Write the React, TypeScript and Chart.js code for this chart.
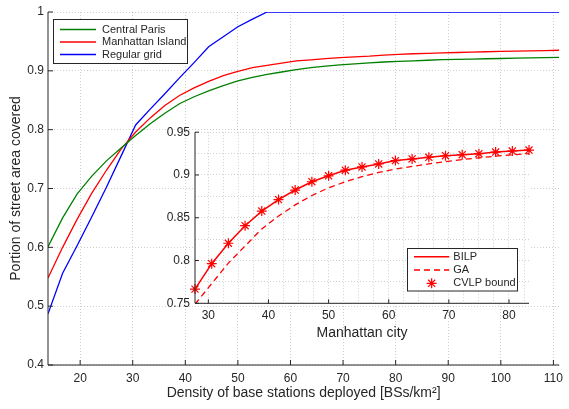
import React, { useEffect, useRef } from 'react';
import { Chart, registerables } from 'chart.js';

Chart.register(...registerables);

// ---------- data ----------
const densityValues = [
  13.89, 16.67, 19.44, 22.22, 25.0, 27.78, 30.56, 33.33, 36.11, 38.89, 41.67, 44.44,
  47.22, 50.0, 52.78, 55.56, 58.33, 61.11, 63.89, 66.67, 69.44, 72.22, 75.0, 77.78,
  80.56, 83.33, 86.11, 88.89, 91.67, 94.44, 97.22, 100.0, 102.78, 105.56, 108.33, 111.11,
];
const centralParis = [
  0.601, 0.65, 0.691, 0.721, 0.747, 0.769, 0.79, 0.81, 0.828, 0.844, 0.856, 0.866,
  0.875, 0.883, 0.889, 0.894, 0.898, 0.902, 0.9055, 0.908, 0.91, 0.912, 0.9135, 0.915,
  0.916, 0.917, 0.918, 0.919, 0.9195, 0.92, 0.9205, 0.921, 0.9215, 0.922, 0.9225, 0.923,
];
const manhattanIsland = [
  0.548, 0.6, 0.648, 0.692, 0.731, 0.767, 0.796, 0.82, 0.841, 0.858, 0.871, 0.882,
  0.892, 0.899, 0.9056, 0.9094, 0.913, 0.9168, 0.9187, 0.9207, 0.9225, 0.9237, 0.9249, 0.9268,
  0.928, 0.929, 0.9298, 0.9305, 0.9312, 0.9318, 0.9324, 0.933, 0.9335, 0.934, 0.9345, 0.935,
];
const regularGrid = [
  0.487, 0.556, 0.603, 0.652, 0.702, 0.755, 0.808, 0.835, 0.861, 0.888, 0.914, 0.941,
  0.958, 0.975, 0.988, 1.0, 1.0, 1.0, 1.0, 1.0, 1.0, 1.0, 1.0, 1.0,
  1.0, 1.0, 1.0, 1.0, 1.0, 1.0, 1.0, 1.0, 1.0, 1.0, 1.0, 1.0,
];
const mainXTicks = [20, 30, 40, 50, 60, 70, 80, 90, 100, 110];
const mainYTicks = [0.4, 0.5, 0.6, 0.7, 0.8, 0.9, 1.0];
const mainYLabels = ['0.4', '0.5', '0.6', '0.7', '0.8', '0.9', '1'];

const insetDensity = [
  27.78, 30.56, 33.33, 36.11, 38.89, 41.67, 44.44, 47.22, 50.0, 52.78, 55.56,
  58.33, 61.11, 63.89, 66.67, 69.44, 72.22, 75.0, 77.78, 80.56, 83.33,
];
const bilp = [
  0.7666, 0.7963, 0.8202, 0.8407, 0.8578, 0.8712, 0.8824, 0.8921, 0.899, 0.9056, 0.9094,
  0.9129, 0.9168, 0.9187, 0.9207, 0.9225, 0.9237, 0.9249, 0.9268, 0.928, 0.9291,
];
const ga = [
  0.749, 0.773, 0.797, 0.817, 0.837, 0.852, 0.865, 0.876, 0.885, 0.892, 0.898,
  0.903, 0.907, 0.91, 0.913, 0.9155, 0.918, 0.92, 0.922, 0.9235, 0.925,
];
const cvlpBound = [
  0.7666, 0.7963, 0.8202, 0.8407, 0.8578, 0.8712, 0.8824, 0.8921, 0.899, 0.9056, 0.9094,
  0.9129, 0.9168, 0.9187, 0.9207, 0.9225, 0.9237, 0.9249, 0.9268, 0.928, 0.9291,
];
const insetXGrid = [
  30, 32.5, 35, 37.5, 40, 42.5, 45, 47.5, 50, 52.5, 55, 57.5, 60, 62.5, 65, 67.5, 70, 72.5,
  75, 77.5, 80, 82.5,
];
const insetXMajor = [30, 40, 50, 60, 70, 80];
const insetYGrid = [0.75, 0.775, 0.8, 0.825, 0.85, 0.875, 0.9, 0.925, 0.95];
const insetYMajor = [0.75, 0.8, 0.85, 0.9, 0.95];
const insetYLabels = ['0.75', '0.8', '0.85', '0.9', '0.95'];

// ---------- styles ----------
const FONT = '"Liberation Sans", Arial, Helvetica, sans-serif';
const TEXT = '#262626';
const AXIS = '#262626';
const GRID = 'rgba(38,38,38,0.22)';
const GREEN = '#008000';
const RED = '#ff0000';
const BLUE = '#0000ff';

const pts = (xs: number[], ys: number[]) => xs.map((x, i) => ({ x, y: ys[i] }));
const near = (a: number, b: number) => Math.abs(a - b) < 1e-6;

function axisPlugin(tickLen: number, xMajor: number[], yMajor: number[]) {
  return {
    id: 'axisTicks',
    afterDatasetsDraw(chart: any) {
      const { ctx, chartArea: a, scales } = chart;
      ctx.save();
      ctx.strokeStyle = AXIS;
      ctx.lineWidth = 1;
      ctx.setLineDash([]);
      ctx.beginPath();
      ctx.moveTo(a.left, a.top);
      ctx.lineTo(a.left, a.bottom);
      ctx.lineTo(a.right, a.bottom);
      for (const v of xMajor) {
        const px = scales.x.getPixelForValue(v);
        ctx.moveTo(px, a.bottom);
        ctx.lineTo(px, a.bottom - tickLen);
      }
      for (const v of yMajor) {
        const py = scales.y.getPixelForValue(v);
        ctx.moveTo(a.left, py);
        ctx.lineTo(a.left + tickLen, py);
      }
      ctx.stroke();
      ctx.restore();
    },
  };
}

type LegendItem = { label: string; color: string; dash?: number[]; marker?: boolean; width?: number };
function legendPlugin(box: { x: number; y: number; w: number; h: number }, lineX0: number, lineX1: number, textX: number, rows: number[], items: LegendItem[]) {
  return {
    id: 'customLegend',
    afterDraw(chart: any) {
      const ctx = chart.ctx;
      ctx.save();
      ctx.fillStyle = '#ffffff';
      ctx.fillRect(box.x, box.y, box.w, box.h);
      ctx.strokeStyle = AXIS;
      ctx.lineWidth = 1;
      ctx.setLineDash([]);
      ctx.strokeRect(box.x, box.y, box.w, box.h);
      ctx.font = `11px ${FONT}`;
      ctx.textBaseline = 'middle';
      ctx.textAlign = 'left';
      items.forEach((it, i) => {
        const y = rows[i];
        ctx.strokeStyle = it.color;
        ctx.lineWidth = it.width || 1.3;
        if (it.marker) {
          const cx = (lineX0 + lineX1) / 2;
          const r = 5;
          ctx.setLineDash([]);
          ctx.beginPath();
          ctx.moveTo(cx, y - r); ctx.lineTo(cx, y + r);
          ctx.moveTo(cx - r, y); ctx.lineTo(cx + r, y);
          const d = r * Math.SQRT1_2;
          ctx.moveTo(cx - d, y - d); ctx.lineTo(cx + d, y + d);
          ctx.moveTo(cx - d, y + d); ctx.lineTo(cx + d, y - d);
          ctx.lineWidth = 1.2;
          ctx.stroke();
        } else {
          ctx.setLineDash(it.dash || []);
          ctx.beginPath();
          ctx.moveTo(lineX0, y);
          ctx.lineTo(lineX1, y);
          ctx.stroke();
        }
        ctx.setLineDash([]);
        ctx.fillStyle = TEXT;
        ctx.fillText(it.label, textX, y);
      });
      ctx.restore();
    },
  };
}

const plotBackground = {
  id: 'plotBg',
  beforeDraw(chart: any) {
    const { ctx, chartArea: a } = chart;
    ctx.save();
    ctx.fillStyle = '#ffffff';
    ctx.fillRect(a.left, a.top, a.right - a.left, a.bottom - a.top);
    ctx.restore();
  },
};

export default function App() {
  const mainRef = useRef<HTMLCanvasElement>(null);
  const insetRef = useRef<HTMLCanvasElement>(null);

  useEffect(() => {
    const tickFont = { size: 12, family: FONT };
    const titleFont = { size: 14, family: FONT };

    const main = new Chart(mainRef.current as HTMLCanvasElement, {
      type: 'line',
      data: {
        datasets: [
          { label: 'Central Paris', data: pts(densityValues, centralParis), borderColor: GREEN, borderWidth: 1.3, pointRadius: 0, tension: 0 },
          { label: 'Manhattan Island', data: pts(densityValues, manhattanIsland), borderColor: RED, borderWidth: 1.3, pointRadius: 0, tension: 0 },
          { label: 'Regular grid', data: pts(densityValues, regularGrid), borderColor: BLUE, borderWidth: 1.3, pointRadius: 0, tension: 0 },
        ],
      },
      options: {
        responsive: false,
        animation: false,
        events: [],
        layout: { padding: { top: 12, right: 3, left: 0, bottom: 0 } },
        plugins: { legend: { display: false }, tooltip: { enabled: false } },
        scales: {
          x: {
            type: 'linear',
            min: 13.89,
            max: 111.11,
            afterBuildTicks: (s: any) => { s.ticks = mainXTicks.map((v) => ({ value: v })); },
            afterFit: (s: any) => { s.height = 44; },
            grid: { color: GRID, lineWidth: 1, drawTicks: false },
            border: { display: false, dash: [1, 2] },
            ticks: { padding: 6, color: TEXT, font: tickFont, maxRotation: 0, autoSkip: false, callback: (v: any) => String(v) },
            title: { display: true, text: 'Density of base stations deployed [BSs/km²]', color: TEXT, font: titleFont, padding: { top: 0, bottom: 7.6 } },
          },
          y: {
            type: 'linear',
            min: 0.4,
            max: 1.0,
            afterBuildTicks: (s: any) => { s.ticks = mainYTicks.map((v) => ({ value: v })); },
            afterFit: (s: any) => { s.width = 48; },
            grid: { color: GRID, lineWidth: 1, drawTicks: false },
            border: { display: false, dash: [1, 2] },
            ticks: {
              padding: 4, color: TEXT, font: tickFont, autoSkip: false,
              callback: (v: any) => { const i = mainYTicks.findIndex((t) => near(t, v)); return i >= 0 ? mainYLabels[i] : ''; },
            },
            title: { display: true, text: 'Portion of street area covered', color: TEXT, font: titleFont, padding: { top: 7.6, bottom: 0 } },
          },
        },
      },
      plugins: [
        axisPlugin(5, mainXTicks, mainYTicks),
        legendPlugin({ x: 53.5, y: 19.5, w: 134, h: 44 }, 60, 96, 102, [29.5, 42, 54.5], [
          { label: 'Central Paris', color: GREEN },
          { label: 'Manhattan Island', color: RED },
          { label: 'Regular grid', color: BLUE },
        ]),
      ],
    } as any);

    const inset = new Chart(insetRef.current as HTMLCanvasElement, {
      type: 'line',
      data: {
        datasets: [
          { label: 'BILP', data: pts(insetDensity, bilp), borderColor: RED, borderWidth: 1.5, pointRadius: 0, tension: 0 },
          { label: 'GA', data: pts(insetDensity, ga), borderColor: RED, borderWidth: 1.3, borderDash: [6, 4], pointRadius: 0, tension: 0 },
          {
            label: 'CVLP bound', data: pts(insetDensity, cvlpBound), showLine: false, borderColor: RED, backgroundColor: RED,
            pointStyle: 'star', pointRadius: 5, pointBorderWidth: 1.2, pointBorderColor: RED, clip: false,
          },
        ],
      },
      options: {
        responsive: false,
        animation: false,
        events: [],
        layout: { padding: { top: 10.7, right: 11, left: 0, bottom: 0 } },
        plugins: { legend: { display: false }, tooltip: { enabled: false } },
        scales: {
          x: {
            type: 'linear',
            min: 27.78,
            max: 83.33,
            afterBuildTicks: (s: any) => { s.ticks = insetXGrid.map((v) => ({ value: v })); },
            afterFit: (s: any) => { s.height = 41.7; },
            grid: { color: GRID, lineWidth: 1, drawTicks: false },
            border: { display: false, dash: [1, 2] },
            ticks: {
              padding: 5, color: TEXT, font: tickFont, maxRotation: 0, autoSkip: false,
              callback: (v: any) => (insetXMajor.some((t) => near(t, v)) ? String(v) : ''),
            },
            title: { display: true, text: 'Manhattan city', color: TEXT, font: titleFont, padding: { top: 0, bottom: 3.3 } },
          },
          y: {
            type: 'linear',
            min: 0.75,
            max: 0.95,
            afterBuildTicks: (s: any) => { s.ticks = insetYGrid.map((v) => ({ value: v })); },
            afterFit: (s: any) => { s.width = 45; },
            grid: { color: GRID, lineWidth: 1, drawTicks: false },
            border: { display: false, dash: [1, 2] },
            ticks: {
              padding: 5, color: TEXT, font: tickFont, autoSkip: false,
              callback: (v: any) => { const i = insetYMajor.findIndex((t) => near(t, v)); return i >= 0 ? insetYLabels[i] : ''; },
            },
          },
        },
      },
      plugins: [
        plotBackground,
        axisPlugin(4, insetXMajor, insetYMajor),
        legendPlugin({ x: 257.5, y: 128.5, w: 110, h: 42.5 }, 264, 299.3, 303.3, [136.7, 150, 163.3], [
          { label: 'BILP', color: RED, width: 1.5 },
          { label: 'GA', color: RED, dash: [6, 4] },
          { label: 'CVLP bound', color: RED, marker: true },
        ]),
      ],
    } as any);

    return () => {
      main.destroy();
      inset.destroy();
    };
  }, []);

  return (
    <div style={{ position: 'fixed', left: 0, top: 0, width: 569, height: 409, background: '#ffffff' }}>
      <canvas ref={mainRef} width={569} height={409} style={{ position: 'absolute', left: 0, top: 0, width: 569, height: 409 }} />
      <canvas ref={insetRef} width={390} height={225} style={{ position: 'absolute', left: 150, top: 120, width: 390, height: 225 }} />
    </div>
  );
}
